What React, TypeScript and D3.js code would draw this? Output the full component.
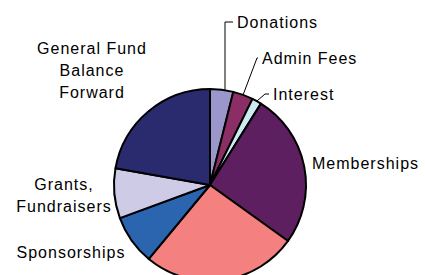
import React from 'react';
import * as d3 from 'd3';

const categories = [
  'Donations',
  'Admin Fees',
  'Interest',
  'Memberships',
  'Events',
  'Sponsorships',
  'Grants, Fundraisers',
  'General Fund Balance Forward',
];
const values = [3.9, 3.4, 1.6, 26.0, 26.1, 8.4, 8.4, 22.2];
const colors = [
  '#9b97cb',
  '#8c2e66',
  '#cdebf0',
  '#5e1f60',
  '#f4807f',
  '#2b65b0',
  '#cdcbe5',
  '#2a2a6e',
];
const labelLines = [
  ['Donations'],
  ['Admin Fees'],
  ['Interest'],
  ['Memberships'],
  [],
  ['Sponsorships'],
  ['Grants,', 'Fundraisers'],
  ['General Fund', 'Balance', 'Forward'],
];

// label layout: anchor x, first baseline, anchor, optional leader elbow
// vertical: leader leaves the rim straight up at the elbow's x
const labelLayout: {
  x: number;
  y: number;
  anchor: string;
  elbow?: [number, number];
  vertical?: boolean;
}[] = [
  { x: 237, y: 28, anchor: 'start', elbow: [225, 22], vertical: true },
  { x: 262, y: 64, anchor: 'start', elbow: [257, 58] },
  { x: 273, y: 100, anchor: 'start', elbow: [265, 94] },
  { x: 312, y: 169, anchor: 'start' },
  { x: 0, y: 0, anchor: 'start' },
  { x: 71, y: 258, anchor: 'middle' },
  { x: 64, y: 190, anchor: 'middle' },
  { x: 92, y: 54, anchor: 'middle' },
];

const W = 425;
const H = 275;
const cx = 210;
const cy = 185;
const R = 96;
const lineGap = 22;

export default function App() {
  const pie = d3
    .pie<number>()
    .sort(null)
    .value((d) => d);
  const arcs = pie(values);
  const arc = d3.arc<d3.PieArcDatum<number>>().innerRadius(0).outerRadius(R);

  return (
    <svg
      width={W}
      height={H}
      style={{ position: 'absolute', left: 0, top: 0, background: '#fff' }}
      fontFamily="'Liberation Sans', Arial, sans-serif"
      fontSize={16}
    >
      <g transform={`translate(${cx},${cy})`}>
        {arcs.map((a, i) => (
          <path
            key={categories[i]}
            d={arc(a) || ''}
            fill={colors[i]}
            stroke="#000"
            strokeWidth={2}
            strokeLinejoin="round"
          />
        ))}
      </g>
      {arcs.map((a, i) => {
        const lay = labelLayout[i];
        if (!lay.elbow) return null;
        const [ex, ey] = lay.elbow;
        const ang = lay.vertical
          ? Math.asin((ex - cx) / R)
          : (a.startAngle + a.endAngle) / 2;
        const sx = cx + Math.sin(ang) * R;
        const sy = cy - Math.cos(ang) * R;
        return (
          <polyline
            key={`lead-${i}`}
            points={`${sx},${sy} ${ex},${ey} ${lay.x - 4},${ey}`}
            fill="none"
            stroke="#000"
            strokeWidth={1}
          />
        );
      })}
      {labelLines.map((lines, i) => {
        const lay = labelLayout[i];
        if (!lines.length) return null;
        return (
          <text
            key={`lab-${i}`}
            x={lay.x}
            y={lay.y}
            textAnchor={lay.anchor}
            fill="#000"
            letterSpacing={1}
          >
            {lines.map((t, j) => (
              <tspan key={t} x={lay.x} y={lay.y + j * lineGap}>
                {t}
              </tspan>
            ))}
          </text>
        );
      })}
    </svg>
  );
}
